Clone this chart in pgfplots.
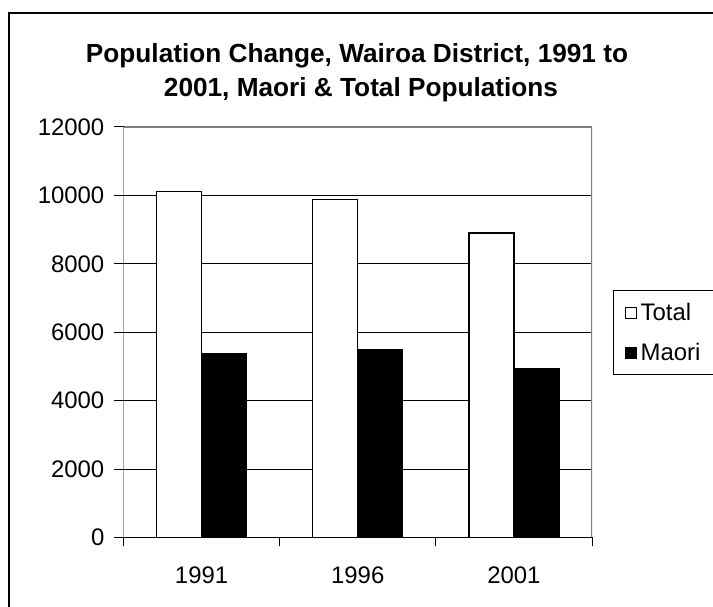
\documentclass[border=0pt]{standalone}
\usepackage{fontspec}
\setmainfont{Liberation Sans}
\usepackage{pgfplots}
\pgfplotsset{compat=1.18}
\definecolor{bordergray}{RGB}{128,128,128}
\pgfplotsset{mylegend/.style={legend image code/.code={\draw[##1, line width=1bp] (12bp,-5.5bp) rectangle (23bp,5.5bp); \path[draw=none, fill=none] (0bp,-20bp) rectangle (27bp,20bp);}}}
\begin{document}
\begin{tikzpicture}
\useasboundingbox (0bp,0bp) rectangle (713bp,607bp);
\clip (0bp,0bp) rectangle (713bp,607bp);
\fill[white] (0bp,0bp) rectangle (713bp,607bp);
\draw[line width=2bp] (9.3bp,-20bp) -- (9.3bp,593.7bp) -- (740bp,593.7bp);
\node[anchor=base, font=\bfseries\fontsize{26.3}{30}\selectfont] at (357bp,544bp) {Population Change, Wairoa District, 1991 to};
\node[anchor=base, font=\bfseries\fontsize{26.3}{30}\selectfont] at (361bp,510bp) {2001, Maori \& Total Populations};
\begin{axis}[
  at={(123.5bp,69.5bp)}, anchor=south west, scale only axis,
  width=468.5bp, height=410.5bp,
  ybar=0pt, bar width=45bp,
  xmin=-0.5, xmax=2.5, ymin=0, ymax=12000,
  xtick={0,1,2}, xticklabels={1991,1996,2001},
  minor xtick={-0.5,0.5,1.5,2.5},
  ytick={0,2000,4000,6000,8000,10000,12000},
  scaled y ticks=false,
  /pgf/number format/1000 sep={},
  /pgf/number format/assume math mode=true,
  tick align=outside, xtick pos=bottom, ytick pos=left,
  major tick length=9bp, minor tick length=9bp,
  major x tick style={draw=none},
  every tick/.style={black, line width=1bp},
  minor tick style={black, line width=1bp},
  ymajorgrids, major grid style={black, line width=1bp},
  axis line style={draw=none},
  tick label style={font=\fontsize{24}{24}\selectfont},
  yticklabel style={inner sep=0pt, anchor=east, xshift=-10bp},
  xticklabel style={inner sep=0pt, anchor=north, yshift=-20bp},
  legend style={at={(1.0448,0.6029)}, anchor=north west, draw=black, line width=1.2bp,
    inner xsep=0pt, inner ysep=2bp, font=\fontsize{24}{24}\selectfont,
    row sep=0pt, column sep=0pt, nodes={inner sep=0pt}},
  legend cell align=left,
]
\addplot[fill=white, draw=black, line width=1.3bp, mylegend]
  coordinates {(0,10120) (1,9880) (2,8900)};
\addlegendentry{\makebox[90bp][l]{Total}}
\addplot[fill=black, draw=black, line width=1.3bp, mylegend]
  coordinates {(0,5370) (1,5480) (2,4950)};
\addlegendentry{\makebox[90bp][l]{Maori}}
\draw[bordergray, line width=1.5bp] (rel axis cs:0,1) -- (rel axis cs:1,1) -- (rel axis cs:1,0);
\draw[black, line width=1.2bp] (rel axis cs:0,1) -- (rel axis cs:0,0) -- (rel axis cs:1,0);
\end{axis}
\end{tikzpicture}
\end{document}
